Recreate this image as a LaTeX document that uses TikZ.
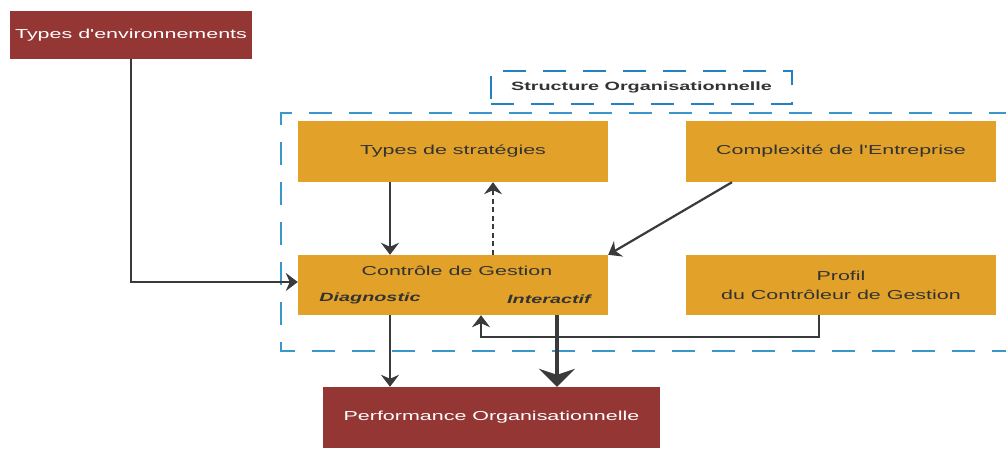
\documentclass[tikz,border=0pt]{standalone}
\usepackage{fontspec}
\newfontfamily\lsans{Liberation Sans}[FakeStretch=1.65]
\usetikzlibrary{arrows.meta}
\definecolor{redbox}{HTML}{943634}
\definecolor{orangebox}{HTML}{E2A229}
\definecolor{dashblue}{HTML}{3A97CC}
\definecolor{structblue}{HTML}{2480C0}
\definecolor{txtgray}{HTML}{333333}
\definecolor{lineg}{HTML}{3A3A3A}
\tikzset{
  redn/.style={fill=redbox, text=white, inner sep=0pt, font=\lsans\fontsize{13}{15}\selectfont},
  orn/.style={fill=orangebox, text=txtgray, inner sep=0pt, minimum width=310pt, font=\lsans\fontsize{13}{15}\selectfont, align=center},
  arr/.style={draw=lineg, line width=2.2pt, -{Stealth[length=12pt,width=18pt,inset=4pt]}},
  bigarr/.style={draw=lineg, line width=3.6pt, -{Stealth[length=18pt,width=36pt,inset=6pt]}},
  bluedash/.style={draw=dashblue, line width=2pt, dash pattern=on 23pt off 17pt},
  lbl/.style={inner sep=0pt, text=txtgray, font=\lsans\fontsize{12}{14}\selectfont\bfseries\itshape}
}
\begin{document}
\begin{tikzpicture}[x=1pt,y=-1pt]
\useasboundingbox (0,0) rectangle (1006,448);
% big dashed region
\draw[bluedash] (1012,113) -- (281,113) -- (281,351) -- (1012,351);
% structure label box
\node[draw=structblue, line width=2pt, dash pattern=on 23pt off 17pt, minimum width=301pt, minimum height=33pt, inner sep=0pt, text=txtgray, font=\lsans\fontsize{12}{14}\selectfont\bfseries] (struct) at (641.5,87.5) {Structure Organisationnelle};
% nodes
\node[redn, minimum width=242pt, minimum height=48pt] (env) at (131,35) {Types d'environnements};
\node[orn, minimum height=61pt] (strat) at (453,151.5) {Types de stratégies};
\node[orn, minimum height=61pt] (complex) at (841,151.5) {Complexité de l'Entreprise};
\node[orn, minimum height=60pt] (ctrl) at (453,285) {};
\node[orn, minimum height=60pt] (profil) at (841,285) {Profil\\[4pt]du Contrôleur de Gestion};
\node[redn, minimum width=337pt, minimum height=61pt] (perf) at (491.5,417.5) {Performance Organisationnelle};
% labels in control box
\node[inner sep=0pt, text=txtgray, font=\lsans\fontsize{13}{15}\selectfont] (ctrlt) at (457,271) {Contrôle de Gestion};
\node[lbl] (diag) at (370,298) {Diagnostic};
\node[lbl] (inter) at (549,299) {Interactif};
% connectors
\draw[arr] (env.south) |- ([yshift=3pt]ctrl.west);
\draw[arr] ([xshift=-63pt]strat.south) -- ([xshift=-63pt]ctrl.north);
\draw[arr, line width=1.4pt, dash pattern=on 5pt off 3.5pt] ([xshift=40pt]ctrl.north) -- ([xshift=40pt]strat.south);
\draw[arr] ([xshift=-109pt]complex.south) -- (ctrl.north east);
\draw[arr] ([xshift=-22pt]profil.south) -- ++(0,22) -| ([xshift=28pt]ctrl.south);
\draw[arr] ([xshift=-63pt]ctrl.south) -- ([xshift=-63pt]ctrl.south |- perf.north);
\draw[bigarr] ([xshift=104pt]ctrl.south) -- ([xshift=104pt]ctrl.south |- perf.north);
\end{tikzpicture}
\end{document}
